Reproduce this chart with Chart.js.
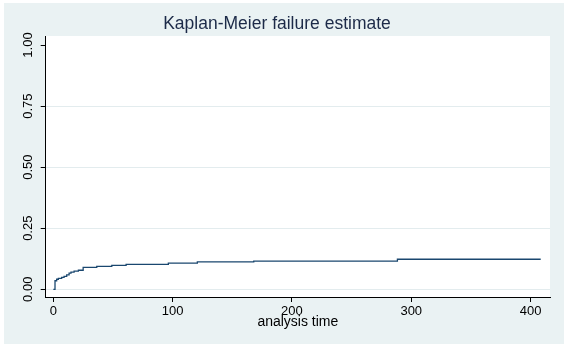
<!DOCTYPE html>
<html>
<head>
<meta charset="utf-8">
<script src="https://cdn.jsdelivr.net/npm/chart.js@4/dist/chart.umd.min.js"></script>
<style>
  html, body { margin: 0; padding: 0; background: #ffffff; }
  #wrap { width: 567px; height: 348px; position: relative; }
</style>
</head>
<body>
<div id="wrap"><canvas id="c" width="567" height="348"></canvas></div>
<script>
// Kaplan-Meier failure estimate
const times    = [0, 1.4, 2.8, 4.2, 7, 9, 11.2, 13.2, 14.8, 17.4, 21, 25, 36.4, 49, 61, 96.4, 120.7, 168, 288.4, 408.5];
const failures = [0, 0.035, 0.041, 0.045, 0.049, 0.053, 0.059, 0.066, 0.070, 0.074, 0.078, 0.090, 0.094, 0.098, 0.102, 0.107, 0.112, 0.115, 0.123, 0.123];
const xTicks = [0, 100, 200, 300, 400];
const yTicks = [0, 0.25, 0.5, 0.75, 1];
const yTickLabels = ['0.00', '0.25', '0.50', '0.75', '1.00'];

const points = times.map((t, i) => ({ x: t, y: failures[i] }));
const FONT = 'Arial, "Liberation Sans", sans-serif';

const bgPlugin = {
  id: 'bg',
  beforeDraw(chart) {
    const ctx = chart.ctx;
    const a = chart.chartArea;
    ctx.save();
    ctx.fillStyle = '#eaf2f3';
    ctx.fillRect(4, 3, 560, 341);
    ctx.fillStyle = '#ffffff';
    ctx.fillRect(a.left, a.top, a.right - a.left, a.bottom - a.top);
    ctx.restore();
  }
};

new Chart(document.getElementById('c'), {
  type: 'line',
  data: {
    datasets: [{
      data: points,
      borderColor: '#1a476f',
      borderWidth: 1.3,
      pointRadius: 0,
      stepped: true,
      fill: false
    }]
  },
  options: {
    responsive: false,
    animation: false,
    layout: { padding: { left: 4, right: 17, top: 3, bottom: 10 } },
    plugins: {
      legend: { display: false },
      tooltip: { enabled: false },
      title: {
        display: true,
        text: 'Kaplan-Meier failure estimate',
        color: '#1c2a48',
        font: { family: FONT, size: 17.5, weight: 'normal' },
        padding: { top: 11, bottom: 1 }
      }
    },
    scales: {
      x: {
        type: 'linear',
        min: -6.4,
        max: 416.3,
        afterBuildTicks: s => { s.ticks = xTicks.map(v => ({ value: v })); },
        afterFit: s => { s.height = 41; },
        ticks: {
          color: '#000',
          font: { family: FONT, size: 13 },
          padding: 2,
          maxRotation: 0,
          callback: v => String(v)
        },
        grid: { drawOnChartArea: false, tickLength: 5, tickColor: '#000', tickWidth: 1 },
        border: { color: '#000', width: 1 },
        title: {
          display: true,
          text: 'analysis time',
          color: '#000',
          font: { family: FONT, size: 14 },
          padding: { top: 0, bottom: 7.9 }
        }
      },
      y: {
        type: 'linear',
        min: -0.0316,
        max: 1.037,
        afterBuildTicks: s => { s.ticks = yTicks.map(v => ({ value: v })); },
        afterFit: s => { s.width = 41.7; },
        ticks: {
          color: '#000',
          font: { family: FONT, size: 13 },
          padding: 0,
          minRotation: 90,
          maxRotation: 90,
          crossAlign: 'center',
          callback: v => yTickLabels[yTicks.indexOf(v)]
        },
        grid: {
          color: c => (c.tick && c.tick.value === 1) ? 'rgba(0,0,0,0)' : '#e3ecee',
          lineWidth: 1, tickLength: 5, tickColor: '#000', tickWidth: 1
        },
        border: { color: '#000', width: 1 }
      }
    }
  },
  plugins: [bgPlugin]
});
</script>
</body>
</html>
